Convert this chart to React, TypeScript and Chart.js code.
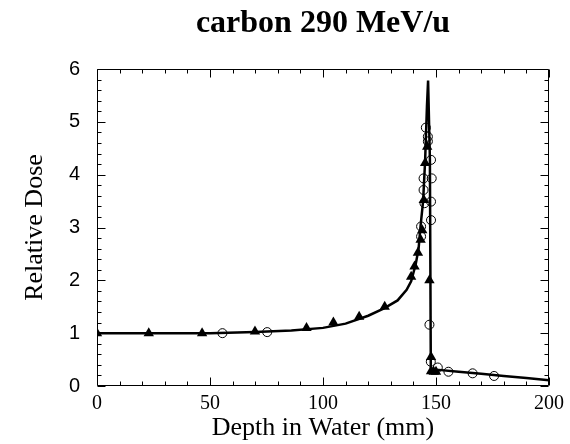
import React, { useEffect, useRef } from "react";
import { Chart, registerables } from "chart.js";

Chart.register(...registerables);

// Calculated dose curve (solid line)
const curveDepth = [0, 30, 50, 70, 86, 100, 110, 120, 127, 133, 137, 139, 141, 142.3, 143.1, 144.3, 145.2, 146.0, 146.5, 147.3, 147.7, 148.5, 150, 160, 170, 180, 190, 200];
const curveDose = [1.0, 1.0, 1.0, 1.02, 1.05, 1.1, 1.18, 1.33, 1.47, 1.62, 1.82, 1.98, 2.3, 2.6, 3.0, 3.5, 4.28, 5.3, 5.78, 4.3, 0.35, 0.32, 0.31, 0.27, 0.23, 0.19, 0.15, 0.11];

// Measured data, filled triangles
const triangleDepth = [0, 22.9, 46.5, 69.9, 92.7, 104.6, 116, 127.3, 139.0, 140.5, 142.0, 143.2, 143.9, 144.6, 145.2, 146.1, 147.1, 147.8, 147.8, 149, 150];
const triangleDose = [1.0, 1.0, 1.0, 1.03, 1.1, 1.2, 1.31, 1.5, 2.07, 2.26, 2.52, 2.77, 2.95, 3.52, 4.22, 4.53, 2.0, 0.55, 0.28, 0.27, 0.27];

// Measured data, open circles
const circleDepth = [55.5, 75.3, 145.5, 146.4, 146.4, 147.8, 144.5, 148.1, 144.5, 144.9, 147.8, 147.8, 143.4, 143.4, 147.1, 147.7, 150.8, 155.5, 166.2, 175.7];
const circleDose = [1.0, 1.02, 4.89, 4.72, 4.63, 4.28, 3.93, 3.93, 3.71, 3.46, 3.49, 3.14, 3.02, 2.83, 1.16, 0.46, 0.35, 0.27, 0.24, 0.19];

const xMin = 0;
const xMax = 200;
const yMin = 0;
const yMax = 6;
const xMinorStep = 10;
const xMajorStep = 50;
const yMinorStep = 0.2;
const yMajorStep = 1;

const titleText = "carbon 290 MeV/u";
const xTitle = "Depth in Water (mm)";
const yTitle = "Relative Dose";

const toPoints = (xs: number[], ys: number[]) => xs.map((x, i) => ({ x, y: ys[i] }));

const frameTicksPlugin = {
  id: "frameTicks",
  beforeDatasetsDraw(chart: any) {
    const { ctx, chartArea, scales } = chart;
    const { left, right, top, bottom } = chartArea;
    const xs = scales.x;
    const ys = scales.y;
    ctx.save();
    ctx.strokeStyle = "#000";
    ctx.lineWidth = 1;
    const L = Math.round(left) + 0.5;
    const R = Math.round(right) - 0.5;
    const T = Math.round(top) + 0.5;
    const B = Math.round(bottom) - 0.5;
    ctx.beginPath();
    ctx.rect(L, T, R - L, B - T);
    ctx.stroke();
    ctx.beginPath();
    const nx = Math.round((xMax - xMin) / xMinorStep);
    for (let i = 0; i <= nx; i++) {
      const v = xMin + i * xMinorStep;
      const major = Math.abs(v / xMajorStep - Math.round(v / xMajorStep)) < 1e-6;
      const len = major ? 8 : 4;
      const px = Math.round(xs.getPixelForValue(v)) + 0.5;
      ctx.moveTo(px, B);
      ctx.lineTo(px, B - len);
      ctx.moveTo(px, T);
      ctx.lineTo(px, T + len);
    }
    const ny = Math.round((yMax - yMin) / yMinorStep);
    for (let i = 0; i <= ny; i++) {
      const v = yMin + i * yMinorStep;
      const major = Math.abs(v / yMajorStep - Math.round(v / yMajorStep)) < 1e-6;
      const len = major ? 8 : 4;
      const py = Math.round(ys.getPixelForValue(v)) + 0.5;
      ctx.moveTo(L, py);
      ctx.lineTo(L + len, py);
      ctx.moveTo(R, py);
      ctx.lineTo(R - len, py);
    }
    ctx.stroke();
    ctx.restore();
  },
};

export default function App() {
  const canvasRef = useRef<HTMLCanvasElement | null>(null);

  useEffect(() => {
    if (!canvasRef.current) return;
    const chart = new Chart(canvasRef.current, {
      type: "scatter",
      data: {
        datasets: [
          {
            label: "measured (triangles)",
            data: toPoints(triangleDepth, triangleDose),
            pointStyle: "triangle",
            pointRadius: 6,
            pointBackgroundColor: "#000",
            pointBorderColor: "#000",
            pointBorderWidth: 0,
            showLine: false,
          },
          {
            label: "measured (circles)",
            data: toPoints(circleDepth, circleDose),
            pointStyle: "circle",
            pointRadius: 4.5,
            pointBackgroundColor: "rgba(0,0,0,0)",
            pointBorderColor: "#000",
            pointBorderWidth: 1,
            showLine: false,
          },
          {
            label: "calculation",
            data: toPoints(curveDepth, curveDose),
            showLine: true,
            borderColor: "#000",
            borderWidth: 2.5,
            pointRadius: 0,
            tension: 0,
          },
        ],
      },
      options: {
        responsive: false,
        animation: false,
        devicePixelRatio: 1,
        layout: { padding: { left: 0, right: 18, top: 0, bottom: 0 } },
        plugins: {
          legend: { display: false },
          tooltip: { enabled: false },
          title: {
            display: true,
            text: titleText,
            fullSize: false,
            color: "#000",
            font: { family: "'Liberation Serif', 'Times New Roman', serif", size: 32, weight: "bold", lineHeight: 1.2 },
            padding: { top: 5, bottom: 25.6 },
          },
        },
        scales: {
          x: {
            type: "linear",
            min: xMin,
            max: xMax,
            grid: { display: false, drawTicks: false },
            border: { display: false },
            ticks: {
              stepSize: xMajorStep,
              color: "#000",
              padding: 6,
              maxRotation: 0,
              font: { family: "'Liberation Serif', 'Times New Roman', serif", size: 20 },
            },
            title: {
              display: true,
              text: xTitle,
              color: "#000",
              font: { family: "'Liberation Serif', 'Times New Roman', serif", size: 26, lineHeight: 1.2 },
              padding: { top: 0, bottom: 0 },
            },
            afterFit: (scale: any) => {
              scale.height = 58;
            },
          },
          y: {
            type: "linear",
            min: yMin,
            max: yMax,
            grid: { display: false, drawTicks: false },
            border: { display: false },
            ticks: {
              stepSize: yMajorStep,
              color: "#000",
              padding: 17,
              font: { family: "'Liberation Sans', Arial, sans-serif", size: 20 },
            },
            title: {
              display: true,
              text: yTitle,
              color: "#000",
              font: { family: "'Liberation Serif', 'Times New Roman', serif", size: 26, lineHeight: 1.2 },
              padding: { top: 20, bottom: 0 },
            },
            afterFit: (scale: any) => {
              scale.width = 97;
            },
          },
        },
      },
      plugins: [frameTicksPlugin],
    });
    return () => chart.destroy();
  }, []);

  return (
    <div style={{ position: "absolute", left: 0, top: 0, width: 570, height: 444, background: "#fff" }}>
      <canvas ref={canvasRef} width={570} height={444} />
    </div>
  );
}
